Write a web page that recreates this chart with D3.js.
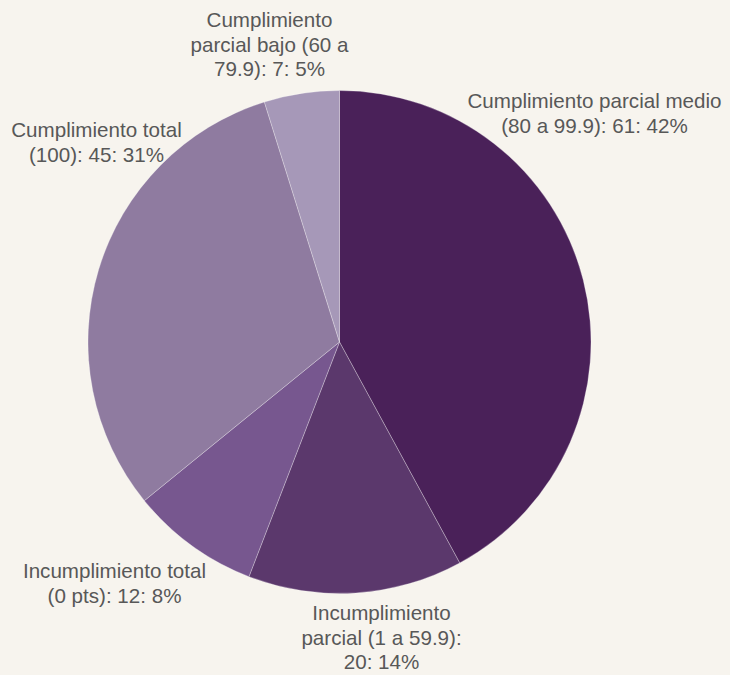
<!DOCTYPE html>
<html>
<head>
<meta charset="utf-8">
<script src="https://cdn.jsdelivr.net/npm/d3@7"></script>
<style>
  html, body { margin: 0; padding: 0; background: #f7f4ee; }
  svg { display: block; }
</style>
</head>
<body>
<svg id="chart" width="730" height="675"></svg>
<script>
// ---- data ----
const categories = [
  "Cumplimiento parcial medio (80 a 99.9)",
  "Incumplimiento parcial (1 a 59.9)",
  "Incumplimiento total (0 pts)",
  "Cumplimiento total (100)",
  "Cumplimiento parcial bajo (60 a 79.9)"
];
const values = [61, 20, 12, 45, 7];
const colors = ["#4a2159", "#5b386c", "#77578f", "#8f7ba0", "#a698b8"];

// ---- layout ----
const width = 730, height = 675;
const cx = 339.5, cy = 342, radius = 251.5;
const lineHeight = 24.5;
// words per line for each label
const lineWords = [[3, 5], [1, 4, 2], [2, 4], [2, 3], [1, 4, 3]];
// label anchor (center x, first baseline y) relative to pie center
const labelOffsets = [[255, -234], [42, 278], [-225, 236], [-243, -205], [-70, -315]];

const svg = d3.select("#chart");
const total = d3.sum(values);
const data = categories.map((c, i) => ({ name: c, value: values[i], color: colors[i], i }));

const pie = d3.pie().sort(null).value(d => d.value);
const arc = d3.arc().innerRadius(0).outerRadius(radius);

const g = svg.append("g").attr("transform", `translate(${cx},${cy})`);

g.selectAll("path")
  .data(pie(data))
  .join("path")
  .attr("d", arc)
  .attr("fill", d => d.data.color)
  .attr("stroke", "rgba(255,255,255,0.35)")
  .attr("stroke-width", 0.8)
  .attr("stroke-linejoin", "round");

const labels = g.selectAll("text.lbl")
  .data(pie(data))
  .join("text")
  .attr("class", "lbl")
  .attr("text-anchor", "middle")
  .attr("font-family", "'Liberation Sans', Arial, Helvetica, sans-serif")
  .attr("font-size", 20.6)
  .attr("fill", "#585858")
  .attr("transform", d => `translate(${labelOffsets[d.data.i][0]},${labelOffsets[d.data.i][1]})`);

labels.each(function(d) {
  const pct = Math.round(d.data.value / total * 100);
  const full = `${d.data.name}: ${d.data.value}: ${pct}%`;
  const words = full.split(" ");
  const counts = lineWords[d.data.i];
  let k = 0;
  const t = d3.select(this);
  counts.forEach((n, li) => {
    t.append("tspan")
      .attr("x", 0)
      .attr("y", li * lineHeight)
      .text(words.slice(k, k + n).join(" "));
    k += n;
  });
});
</script>
</body>
</html>
